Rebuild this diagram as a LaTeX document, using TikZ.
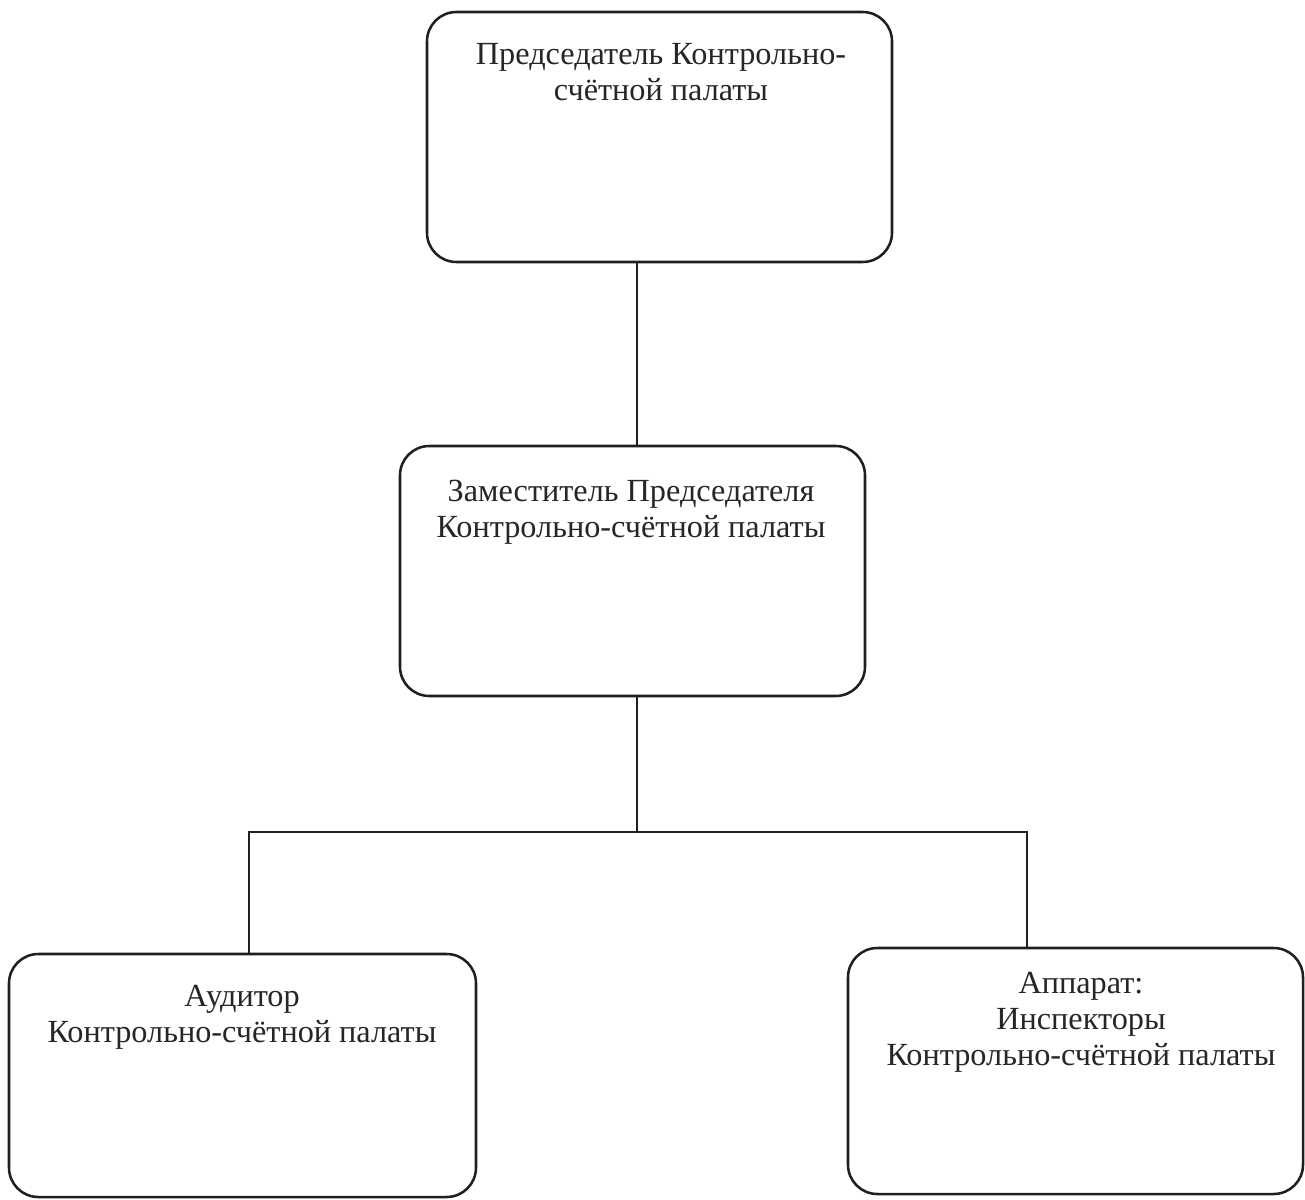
\documentclass[tikz,border=0pt]{standalone}
\usepackage{fontspec}
\setmainfont{Liberation Serif}
\begin{document}
\begin{tikzpicture}[x=0.75pt,y=-0.75pt,
  box/.style={draw=black!88, line width=1.9pt, rounded corners=22pt, rectangle, inner sep=0pt},
  txt/.style={align=center, inner sep=0pt, text=black!85, font=\fontsize{24.2pt}{27pt}\selectfont},
  conn/.style={draw=black!88, line width=1.4pt}]
\fill[white] (0,0) rectangle (1305,1199);
\useasboundingbox (0,0) rectangle (1305,1199);
\node[box, minimum width=348.75pt, minimum height=187.5pt] (b1) at (659.5,137) {};
\node[box, minimum width=348.75pt, minimum height=187.5pt] (b2) at (632.5,571) {};
\node[box, minimum width=350.25pt, minimum height=182.25pt] (b3) at (242.5,1075.5) {};
\node[box, minimum width=341.25pt, minimum height=184.5pt] (b4) at (1075.5,1071) {};
\node[txt, anchor=base] (t1) at (661,100) {Председатель Контрольно-\\счётной палаты};
\node[txt, anchor=base] (t2) at (631,537) {Заместитель Председателя\\Контрольно-счётной палаты};
\node[txt, anchor=base] (t3) at (242,1042) {Аудитор\\Контрольно-счётной палаты};
\node[txt, anchor=base] (t4) at (1081,1065) {Аппарат:\\Инспекторы\\Контрольно-счётной палаты};
\coordinate (j) at (637,832);
\coordinate (L) at (249,832);
\coordinate (R) at (1027,832);
\draw[conn] (b1.south -| j) -- (b2.north -| j);
\draw[conn] (b2.south -| j) -- (j);
\draw[conn] (b3.north -| L) -- (L) -- (R) -- (b4.north -| R);
\end{tikzpicture}
\end{document}
